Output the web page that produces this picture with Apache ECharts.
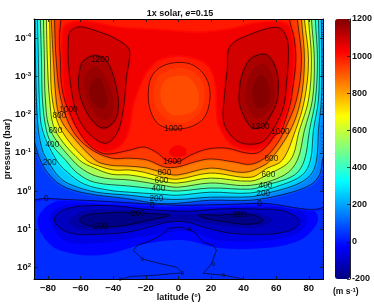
<!DOCTYPE html>
<html><head><meta charset="utf-8">
<style>html,body{margin:0;padding:0;background:#fff}#c{width:374px;height:304px}</style>
<script src="https://cdn.jsdelivr.net/npm/echarts@6/dist/echarts.min.js"></script>
</head><body><div id="c"></div>
<script>
// Contours: [latitude in degrees, log10(pressure in bar)]
const base=[[-95,-5],[95,-5],[95,3],[-95,3]];
const c0=[[-92,.15],[-81,.19],[-48.5,.26],[-16,.34],[5,.37],[50,.32],[92,.26],[92,-4.75],[-92,-4.75]];
const c100=[[-92,-4.75],[-92,-2],[-87.7,-1.2],[-84.7,-.81],[-80.4,-.49],[-71.8,-.15],[-57.7,.05],[-30,.21],[-13.5,.32],[-.6,.32],[19.6,.24],[44.2,.24],[65,.08],[80.4,-.15],[86.5,-.42],[88.3,-.81],[92,-1.5],[92,-4.75]];
const c200=[[-88,-4.75],[-88,-4.5],[-87.7,-3.43],[-87.1,-2.38],[-85.9,-1.59],[-83.4,-1.07],[-80.4,-.81],[-73,-.36],[-65,-.15],[-50.3,.03],[-30,.11],[-13.5,.19],[-.6,.22],[19.6,.16],[44.2,.15],[52,.08],[71.2,-.15],[81,-.42],[84.7,-.81],[85.9,-1.59],[87.7,-2.38],[88,-3.43],[87.7,-4.5],[87.7,-4.75]];
const c300=[[-86.5,-4.75],[-86.5,-4.5],[-85.9,-3.43],[-85.3,-2.38],[-83.4,-1.59],[-74.8,-.81],[-68,-.49],[-57.7,-.18],[-42.3,-.02],[-30,.03],[-11.7,.08],[-.6,.11],[19.6,.03],[44.2,.05],[62.6,-.15],[76,-.42],[81,-.81],[82.8,-1.59],[85.9,-2.38],[86.5,-3.43],[85.9,-4.5],[85.9,-4.75]];
const c400=[[-84.7,-4.75],[-84.7,-4.5],[-84,-3.43],[-83.4,-2.38],[-81,-1.59],[-77.3,-1.2],[-69.3,-.81],[-62,-.47],[-51.5,-.23],[-30,-.13],[-12.3,-.05],[-.6,0],[19.6,-.08],[44.2,-.05],[53.4,-.15],[71.2,-.42],[77.3,-.81],[80.4,-1.59],[84,-2.38],[85.3,-3.43],[84,-4.5],[84,-4.75]];
const c500=[[-82.8,-4.75],[-82.8,-4.5],[-82.2,-3.43],[-81.6,-2.38],[-78.5,-1.59],[-65,-.81],[-55.8,-.49],[-45.4,-.34],[-30,-.29],[-17.8,-.21],[-9.8,-.15],[-.6,-.1],[19.6,-.21],[44.2,-.15],[65,-.42],[73,-.81],[77.3,-1.59],[82.2,-2.38],[83.4,-3.43],[81.6,-4.5],[81.6,-4.75]];
const c600=[[-81,-4.75],[-81,-4.5],[-80.4,-3.43],[-79,-2.38],[-75.5,-1.59],[-60.7,-.81],[-51.5,-.6],[-41,-.44],[-30,-.42],[-19,-.34],[-10.4,-.26],[-.6,-.21],[19.6,-.34],[44.2,-.26],[55.2,-.44],[68.7,-.81],[74.2,-1.59],[79.8,-2.38],[81.6,-3.43],[79.8,-4.5],[79.8,-4.75]];
const c700=[[-79,-4.75],[-79,-4.5],[-78.5,-3.43],[-77.3,-2.38],[-71.8,-1.59],[-56.4,-.81],[-48.5,-.65],[-39.3,-.55],[-30,-.55],[-21,-.49],[-9.8,-.36],[-.6,-.31],[19.6,-.47],[44.2,-.36],[54.6,-.6],[63.8,-.81],[71.8,-1.59],[77.3,-2.38],[79.8,-3.43],[77.3,-4.5],[77.3,-4.75]];
const c800=[[-78,-4.75],[-78,-4.5],[-76.7,-3.43],[-75,-2.38],[-73,-1.96],[-68,-1.59],[-51,-.81],[-42.3,-.68],[-30,-.65],[-19,-.6],[-8.6,-.47],[-.6,-.42],[19.6,-.6],[40.5,-.49],[52.8,-.68],[57,-.84],[68.7,-1.59],[75,-2.38],[77.3,-3.43],[75.5,-4.5],[75.5,-4.75]];
const c900=[[-76,-4.75],[-76,-4.5],[-75,-3.43],[-72,-2.38],[-65,-1.59],[-54.6,-1.12],[-41,-.86],[-30,-.86],[-19,-.81],[-8.6,-.63],[-.6,-.63],[9.8,-.76],[19.6,-.84],[34.4,-.76],[44.2,-.7],[52.8,-.86],[60.7,-1.25],[65,-1.59],[72.4,-2.38],[75.5,-3.43],[73,-4.5],[73,-4.75]];
const c1000=[[-71,-4.75],[-72,-4.5],[-73,-4],[-72.4,-3.43],[-71.8,-2.8],[-69.3,-2.3],[-67.5,-2.14],[-62.6,-1.67],[-55.8,-1.25],[-48.5,-1.02],[-42.3,-.97],[-30,-1.07],[-21,-1.15],[-13,-1],[-7.4,-.81],[-.6,-.76],[7.4,-.94],[18,-1.1],[30,-1.12],[41,-1],[48.5,-1],[54.6,-1.2],[59,-1.46],[62.6,-1.54],[65.6,-1.86],[68.7,-2.3],[70,-2.64],[72,-3.4],[71,-4],[68,-4.5],[68,-4.75]];
const c1000mid=[[4.9,-3.35],[11,-3.24],[16,-3.03],[19,-2.72],[19,-2.3],[16,-1.93],[11,-1.75],[4.9,-1.65],[-3.1,-1.62],[-7.4,-1.65],[-13.5,-1.8],[-17.8,-2.2],[-18.4,-2.64],[-16.6,-2.98],[-11.7,-3.22],[-3.7,-3.35]];
const c1100w=[[-66.9,-4.13],[-63.8,-4.26],[-58.9,-4.29],[-48.5,-4.16],[-39.3,-4],[-30.7,-3.74],[-30,-3.5],[-31.9,-2.98],[-33.1,-2.38],[-35,-1.86],[-37.4,-1.54],[-41.1,-1.33],[-45.4,-1.25],[-51.5,-1.38],[-57.7,-1.65],[-62.6,-2.04],[-65.6,-2.64],[-67.5,-3.35],[-67.5,-3.87]];
const c1100e=[[30.7,-3.69],[34.4,-3.9],[46,-4.13],[55.8,-4.26],[62,-4.26],[66.3,-4.03],[67.5,-3.61],[66.3,-2.82],[64.4,-2.2],[58.9,-1.67],[52.8,-1.33],[46.6,-1.23],[37.4,-1.28],[30.7,-1.54],[27.6,-1.86],[28.2,-2.46],[30.1,-3.24]];
const c1200w=[[-60.7,-3.11],[-58.9,-3.37],[-53.4,-3.53],[-48.5,-3.53],[-43.6,-3.37],[-40.5,-3.09],[-38,-2.69],[-36.8,-2.3],[-38,-1.93],[-42.3,-1.7],[-46.6,-1.65],[-51.5,-1.78],[-56.4,-2.07],[-60.1,-2.46],[-61.3,-2.82]];
const c1200e=[[37.4,-2.56],[38.7,-2.98],[43.6,-3.43],[50.9,-3.58],[55.8,-3.51],[60.1,-3.16],[61.3,-2.72],[60.1,-2.3],[54,-1.8],[50.9,-1.67],[44.8,-1.67],[39.9,-1.99],[37.4,-2.3]];
const cm100=[[-76.1,.76],[-74.2,.6],[-68.7,.47],[-58.9,.39],[-38,.39],[-22.1,.47],[4.9,.53],[25.2,.47],[46,.47],[62,.5],[70.6,.63],[74.2,.79],[72.4,.94],[64.4,1.08],[52.1,1.13],[31.3,1.1],[15.3,.94],[4.9,.81],[-5.5,.81],[-17.8,.94],[-31.9,1.08],[-48.5,1.13],[-62.6,1.13],[-71.8,1]];
const cm200w=[[-60.7,.76],[-56.4,.63],[-46.6,.58],[-31.9,.55],[-22.1,.58],[-5.5,.63],[-17.8,.76],[-31.9,.89],[-46.6,.94],[-56.4,.89]];
const cm200e=[[12.3,.63],[25.2,.63],[33.7,.6],[46.6,.63],[52.1,.79],[41.7,.87],[29.4,.81],[19,.74]];
const c0deep=[[-35.6,2.3],[-28.2,2.23],[-13.5,2.2],[-1.2,2.15],[2.5,2.15],[-1.2,1.99],[-9.8,1.91],[-22.1,1.78],[-27.6,1.55],[-25.2,1.42],[-17.8,1.31],[-9.8,1.13],[-5.5,.97],[2.5,.94],[4.9,1],[6.7,1],[11,1.13],[15.3,1.34],[21.5,1.42],[23.3,1.55],[20.2,1.91],[15.3,2.15],[27.6,2.2],[39.9,2.3]];
// Unlabelled shading bands between the contours
const s1050=[[-70.5,-4.21],[-70.5,-3.16],[-68.7,-2.38],[-63.8,-1.8],[-54.6,-1.25],[-45.4,-1.07],[-36.2,-1.2],[-31.3,-1.54],[-28.2,-2.25],[-23.9,-2.77],[-20.2,-3.11],[-12.9,-3.43],[-.6,-3.56],[11,-3.48],[19,-3.27],[23.3,-2.77],[23.9,-2.12],[25.2,-1.73],[32.5,-1.25],[43.6,-1.1],[52.8,-1.18],[60.1,-1.54],[65.6,-2.04],[69.3,-2.77],[70.6,-3.69],[68,-4.26],[62,-4.4],[46.6,-4.37],[31.3,-4.21],[12.9,-4.13],[.6,-4.16],[-17.8,-4.21],[-36.2,-4.26],[-57.7,-4.42],[-66.9,-4.37]];
const sPatch=[[-5.5,-1.07],[-.6,-1.2],[4.3,-1.12],[4.3,-.94],[-.6,-.89],[-4.9,-.94]];
const sMid1=[[-3,-3.2],[5,-3.2],[11,-3.05],[15.5,-2.75],[15.5,-2.3],[12,-2],[5,-1.8],[-3,-1.8],[-9,-1.95],[-14,-2.25],[-15,-2.65],[-12,-3]];
const sMid2=[[-2,-3],[5,-3],[10,-2.8],[12.5,-2.5],[11,-2.15],[4,-2],[-4,-2],[-9.5,-2.25],[-11,-2.6],[-8,-2.9]];
const sW1=[[-57.7,-2.9],[-53.4,-3.22],[-48.5,-3.22],[-43.6,-2.9],[-39.9,-2.38],[-41,-1.99],[-45.4,-1.86],[-51.5,-2.04],[-56.4,-2.46]];
const sW2=[[-54.6,-2.64],[-52.1,-2.9],[-48.5,-2.96],[-45.4,-2.69],[-43.6,-2.38],[-45.4,-2.17],[-49,-2.17],[-53.4,-2.38]];
const sE1=[[41,-2.51],[43.6,-3.03],[49.7,-3.32],[54.6,-3.27],[58.3,-2.9],[58.9,-2.38],[54.6,-2.07],[48.5,-1.91],[43.6,-2.07]];
const sE2=[[45.4,-2.64],[47.9,-2.96],[51.5,-3.03],[55.2,-2.77],[55.8,-2.38],[52,-2.17],[47.2,-2.22]];
const sN30=[[-86.5,.81],[-82.2,.45],[-73,.26],[-48.5,.32],[-16,.39],[4.9,.42],[49.7,.37],[77.3,.34],[85.3,.63],[84,.92],[74.2,1.29],[52.8,1.49],[25.2,1.49],[4.9,1.29],[-17.8,1.36],[-48.5,1.68],[-73,1.55],[-82.2,1.23]];
const sN70=[[-79,.71],[-74.2,.45],[-60.7,.34],[-17.8,.45],[4.9,.47],[49.7,.42],[71.2,.45],[79,.71],[74.2,1.08],[55.8,1.29],[25.2,1.29],[4.9,1.05],[-17.8,1.16],[-48.5,1.36],[-69.9,1.29]];
const sN150=[[-66.9,.79],[-57.7,.53],[-33.1,.5],[4.9,.6],[43.6,.55],[57,.74],[50.9,.94],[31.3,.92],[4.9,.79],[-17.8,.87],[-48.5,1.02],[-62,.97]];
// Painter's order: [ring, shade value, halo value or null]
const shading=[[base,35,null],[sN30,-20,null],[sN70,-60,null],[cm100,-110,null],[sN150,-150,null],[cm200w,-190,null],[cm200e,-190,null],
 [c0,55,0],[c100,155,85],[c200,255,185],[c300,355,285],[c400,455,385],[c500,555,485],[c600,655,585],[c700,755,685],[c800,855,785],[c900,945,885],[c1000,990,965],
 [s1050,1042,1015],[sPatch,1035,null],[c1100w,1085,1065],[c1100e,1085,1065],[c1200w,1140,1110],[c1200e,1140,1110],[sW1,1165,null],[sE1,1165,null],[sW2,1190,null],[sE2,1190,null],
 [c1000mid,965,985],[sMid1,945,null],[sMid2,920,null]];
const closedLines=[c0,c100,c200,c300,c400,c500,c600,c700,c800,c900,c1000,c1000mid,c1100w,c1100e,c1200w,c1200e,cm100,cm200w,cm200e];
const openLines=[c0deep];
const labelLat=[-67.5,-73,-75.5,-77.3,-79,-81,-48,-3.1,-3.7,-8.6,-10.4,-12.3,-13.5,-16,50.3,62.6,57,55.2,53.4,52,49.7,-25.8,-48.5,36.8,-35.6,2.5,-22.1,6.7,21.5,27.6];
const labelExp=[-2.14,-1.96,-1.59,-1.2,-.73,.19,-3.43,-1.62,-.78,-.47,-.26,-.05,.21,.39,-1.67,-1.54,-.84,-.44,-.15,.08,.32,.58,.92,.63,2.3,2.15,1.78,1,1.91,2.2];
const labelText=['1000','800','600','400','200','0','1200','1000','1000','800','600','400','200','0','1200','1000','800','600','400','200','0','-200','-200','-200','0','0','0','0','0','0'];
const smallLabelFrom=24;
const pressureTicks=[1e-4,1e-3,1e-2,1e-1,1,10,100];
const decades=[1e-5,1e-4,1e-3,1e-2,1e-1,1,10,100];
const mantissas=[2,3,4,5,6,7,8,9];
const latTicks=[-80,-60,-40,-20,0,20,40,60,80];
const jet=['#00007f','#0000ff','#007fff','#00ffff','#7fff7f','#ffff00','#ff7f00','#ff0000','#7f0000'];

const FONT='"Liberation Sans",Arial,sans-serif';
const pLow=Math.pow(10,-4.5),pHigh=Math.pow(10,2.3);
const minorP=[];decades.forEach(d=>mantissas.forEach(m=>{const v=d*m;if(v>pLow&&v<pHigh)minorP.push(v);}));
const toP=r=>r.map(q=>[q[0],Math.pow(10,q[1])]);
const G={left:34,top:19,width:289.5,height:260,outerBoundsMode:'none',containLabel:false};
const tickC='#111';
const ringPts=(api,r)=>toP(r).map(q=>api.coord(q));
const fillData=[];
shading.forEach((b,i)=>{ if(b[2]!==null) fillData.push([i,b[2],1]); fillData.push([i,b[1],0]); });
const lineData=closedLines.map((r,i)=>[i,1]).concat(openLines.map((r,i)=>[i,0]));
const labelData=labelLat.map((x,i)=>({value:[x,Math.pow(10,labelExp[i]),labelText[i]],label:{fontSize:i>=smallLabelFrom?5.5:8.3}}));
const supRich={b:{fontFamily:FONT,fontWeight:'bold',fontSize:9.5,color:'#111'},s:{fontFamily:FONT,fontWeight:'bold',fontSize:6,color:'#111',verticalAlign:'top',padding:[0,0,5,0]}};
const latAxis=(o)=>Object.assign({type:'value',min:-88.6,max:89,gridIndex:0,z:5,splitLine:{show:false},
  axisLine:{show:true,onZero:false,lineStyle:{color:'#000',width:1}},axisTick:{show:true,inside:true,length:3,customValues:latTicks,lineStyle:{color:tickC,width:.8}}},o);
const pAxis=(o)=>Object.assign({type:'log',logBase:10,inverse:true,min:pLow,max:pHigh,gridIndex:0,z:5,splitLine:{show:false},
  axisLine:{show:true,onZero:false,lineStyle:{color:'#000',width:1}},axisTick:{show:true,inside:true,length:3.5,customValues:pressureTicks,lineStyle:{color:tickC,width:.8}}},o);
const pMinorAxis=(pos)=>pAxis({position:pos,axisLine:{show:false,onZero:false},axisLabel:{show:false},axisTick:{show:true,inside:true,length:1.8,customValues:minorP,lineStyle:{color:'#222',width:.6}}});
const chart=echarts.init(document.getElementById('c'),null,{renderer:'canvas'});
chart.setOption({
 animation:false,backgroundColor:'#fff',
 title:[{text:'{b|1x solar, }{i|e}{b|=0.15}',left:175,top:4,textAlign:'center',textStyle:{rich:{b:{fontFamily:FONT,fontWeight:'bold',fontSize:9,color:'#111'},i:{fontFamily:FONT,fontWeight:'bold',fontStyle:'italic',fontSize:9,color:'#111'}}}},
  {text:'{b|(m s}{s|-1}{b|)}',left:328,top:282,textStyle:{rich:{b:{fontFamily:FONT,fontWeight:'bold',fontSize:8.5,color:'#111'},s:{fontFamily:FONT,fontWeight:'bold',fontSize:6,color:'#111',verticalAlign:'top',padding:[0,0,4,0]}}}}],
 grid:[G,{left:335,top:19,width:15,height:260,outerBoundsMode:'none',containLabel:false}],
 xAxis:[latAxis({position:'bottom',name:'latitude (°)',nameLocation:'middle',nameGap:14,nameMoveOverlap:false,nameTextStyle:{fontFamily:FONT,fontWeight:'bold',fontSize:9,color:'#111'},
    axisLabel:{customValues:latTicks,margin:4,fontFamily:FONT,fontWeight:'bold',fontSize:9.5,color:'#111',formatter:v=>String(v).replace('-','−')}}),
  latAxis({position:'top',axisLabel:{show:false}}),
  {type:'value',gridIndex:1,min:0,max:1,show:false}],
 yAxis:[pAxis({position:'left',name:'pressure (bar)',nameLocation:'middle',nameGap:22,nameMoveOverlap:false,nameTextStyle:{fontFamily:FONT,fontWeight:'bold',fontSize:9,color:'#111'},
    axisLabel:{customValues:pressureTicks,margin:3,rich:supRich,formatter:v=>'{b|10}{s|'+Math.round(Math.log10(v))+'}'}}),
  pAxis({position:'right',axisLabel:{show:false}}),
  pMinorAxis('left'),pMinorAxis('right'),
  {type:'value',gridIndex:1,min:-200,max:1200,interval:200,position:'right',z:5,splitLine:{show:false},
   axisLine:{show:true,onZero:false,lineStyle:{color:'#222',width:1}},axisTick:{show:true,inside:true,length:3,lineStyle:{color:'#111',width:.8}},
   axisLabel:{margin:2,fontFamily:FONT,fontWeight:'bold',fontSize:9,color:'#111',formatter:v=>String(v)}}],
 visualMap:{type:'continuous',seriesIndex:0,dimension:1,min:-200,max:1200,left:335,top:19,padding:0,itemWidth:15,itemHeight:260,calculable:false,hoverLink:false,text:null,showLabel:false,formatter:()=>'',inRange:{color:jet},textStyle:{fontSize:1,color:'transparent'}},
 series:[
  {type:'custom',xAxisIndex:0,yAxisIndex:0,clip:true,silent:true,z:2,data:fillData,dimensions:['ring','shade','halo'],encode:{},
   renderItem:(p,api)=>{const b=shading[api.value(0)],col=api.visual('color'),halo=api.value(2)===1;
    return {type:'polygon',shape:{points:ringPts(api,b[0]),smooth:.35},style:halo?{fill:col,stroke:col,lineWidth:3.5}:{fill:col,stroke:null}};}},
  {type:'custom',xAxisIndex:0,yAxisIndex:0,clip:true,silent:true,z:3,data:lineData,encode:{},
   renderItem:(p,api)=>{const closed=api.value(1)===1,r=closed?closedLines[api.value(0)]:openLines[api.value(0)];
    return {type:closed?'polygon':'polyline',shape:{points:ringPts(api,r),smooth:closed?.35:0},style:{fill:null,stroke:'rgba(0,0,0,.78)',lineWidth:.8}};}},
  {type:'scatter',xAxisIndex:0,yAxisIndex:0,symbolSize:0,silent:true,z:4,data:labelData,
   label:{show:true,position:'inside',fontFamily:FONT,fontSize:8.3,color:'#000',formatter:q=>q.value[2]},labelLayout:{hideOverlap:false}}
 ]
});
</script></body></html>
